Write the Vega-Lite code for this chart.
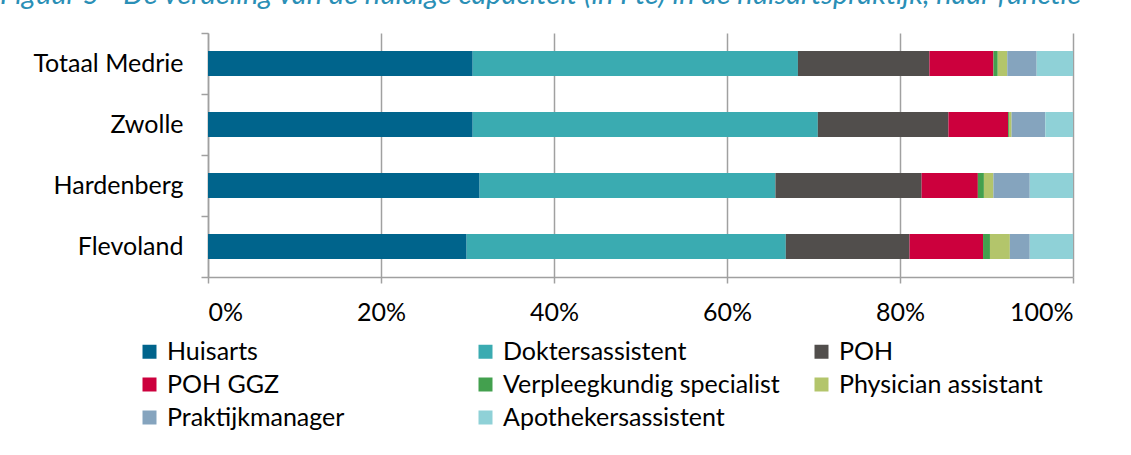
{
  "$schema": "https://vega.github.io/schema/vega-lite/v6.json",
  "autosize": {"type": "none"},
  "width": 865,
  "height": 244,
  "padding": {"left": 208, "top": 33, "right": 58, "bottom": 178},
  "background": "white",
  "title": {
    "text": "Figuur 5 - De verdeling van de huidige capaciteit (in Fte) in de huisartspraktijk, naar functie",
    "anchor": "start",
    "frame": "group",
    "orient": "top",
    "baseline": "alphabetic",
    "offset": 12,
    "dy": 24,
    "dx": -208,
    "font": "Lato",
    "fontStyle": "italic",
    "fontWeight": "normal",
    "fontSize": 29,
    "color": "#2a8fb6"
  },
  "data": {
    "values": [
      {"regio": "Totaal Medrie", "functie": "Huisarts", "o": 1, "waarde": 30.6},
      {"regio": "Totaal Medrie", "functie": "Doktersassistent", "o": 2, "waarde": 37.6},
      {"regio": "Totaal Medrie", "functie": "POH", "o": 3, "waarde": 15.2},
      {"regio": "Totaal Medrie", "functie": "POH GGZ", "o": 4, "waarde": 7.4},
      {"regio": "Totaal Medrie", "functie": "Verpleegkundig specialist", "o": 5, "waarde": 0.5},
      {"regio": "Totaal Medrie", "functie": "Physician assistant", "o": 6, "waarde": 1.1},
      {"regio": "Totaal Medrie", "functie": "Praktijkmanager", "o": 7, "waarde": 3.4},
      {"regio": "Totaal Medrie", "functie": "Apothekersassistent", "o": 8, "waarde": 4.2},
      {"regio": "Zwolle", "functie": "Huisarts", "o": 1, "waarde": 30.6},
      {"regio": "Zwolle", "functie": "Doktersassistent", "o": 2, "waarde": 39.9},
      {"regio": "Zwolle", "functie": "POH", "o": 3, "waarde": 15.1},
      {"regio": "Zwolle", "functie": "POH GGZ", "o": 4, "waarde": 6.9},
      {"regio": "Zwolle", "functie": "Verpleegkundig specialist", "o": 5, "waarde": 0.1},
      {"regio": "Zwolle", "functie": "Physician assistant", "o": 6, "waarde": 0.3},
      {"regio": "Zwolle", "functie": "Praktijkmanager", "o": 7, "waarde": 3.9},
      {"regio": "Zwolle", "functie": "Apothekersassistent", "o": 8, "waarde": 3.2},
      {"regio": "Hardenberg", "functie": "Huisarts", "o": 1, "waarde": 31.4},
      {"regio": "Hardenberg", "functie": "Doktersassistent", "o": 2, "waarde": 34.2},
      {"regio": "Hardenberg", "functie": "POH", "o": 3, "waarde": 16.9},
      {"regio": "Hardenberg", "functie": "POH GGZ", "o": 4, "waarde": 6.5},
      {"regio": "Hardenberg", "functie": "Verpleegkundig specialist", "o": 5, "waarde": 0.7},
      {"regio": "Hardenberg", "functie": "Physician assistant", "o": 6, "waarde": 1.1},
      {"regio": "Hardenberg", "functie": "Praktijkmanager", "o": 7, "waarde": 4.2},
      {"regio": "Hardenberg", "functie": "Apothekersassistent", "o": 8, "waarde": 5.0},
      {"regio": "Flevoland", "functie": "Huisarts", "o": 1, "waarde": 29.9},
      {"regio": "Flevoland", "functie": "Doktersassistent", "o": 2, "waarde": 36.9},
      {"regio": "Flevoland", "functie": "POH", "o": 3, "waarde": 14.3},
      {"regio": "Flevoland", "functie": "POH GGZ", "o": 4, "waarde": 8.5},
      {"regio": "Flevoland", "functie": "Verpleegkundig specialist", "o": 5, "waarde": 0.8},
      {"regio": "Flevoland", "functie": "Physician assistant", "o": 6, "waarde": 2.3},
      {"regio": "Flevoland", "functie": "Praktijkmanager", "o": 7, "waarde": 2.3},
      {"regio": "Flevoland", "functie": "Apothekersassistent", "o": 8, "waarde": 5.0}
    ]
  },
  "mark": {"type": "bar", "height": 25},
  "encoding": {
    "y": {
      "field": "regio",
      "type": "nominal",
      "sort": ["Totaal Medrie", "Zwolle", "Hardenberg", "Flevoland"],
      "scale": {"paddingInner": 0, "paddingOuter": 0},
      "axis": {
        "title": null,
        "tickBand": "extent",
        "domainColor": "#a0a0a0",
        "domainWidth": 1.5,
        "tickColor": "#a0a0a0",
        "tickWidth": 1.5,
        "tickSize": 7,
        "labelFont": "Lato",
        "labelFontSize": 25,
        "labelColor": "#000000",
        "labelPadding": 18,
        "labelLimit": 300
      }
    },
    "x": {
      "field": "waarde",
      "type": "quantitative",
      "stack": "normalize",
      "scale": {"domain": [0, 1], "nice": false},
      "axis": {
        "title": null,
        "format": ".0%",
        "values": [0, 0.2, 0.4, 0.6, 0.8, 1],
        "grid": true,
        "gridColor": "#a0a0a0",
        "gridWidth": 1.5,
        "domainColor": "#a0a0a0",
        "domainWidth": 1.5,
        "tickColor": "#a0a0a0",
        "tickWidth": 1.5,
        "tickSize": 6,
        "labelFont": "Lato",
        "labelFontSize": 25,
        "labelColor": "#000000",
        "labelPadding": 17
      }
    },
    "color": {
      "field": "functie",
      "type": "nominal",
      "sort": ["Huisarts", "Doktersassistent", "POH", "POH GGZ", "Verpleegkundig specialist", "Physician assistant", "Praktijkmanager", "Apothekersassistent"],
      "scale": {
        "domain": ["Huisarts", "Doktersassistent", "POH", "POH GGZ", "Verpleegkundig specialist", "Physician assistant", "Praktijkmanager", "Apothekersassistent"],
        "range": ["#00648c", "#3aabb1", "#514e4c", "#cc003d", "#43a04e", "#b3c56b", "#85a4be", "#8fd1d7"]
      },
      "legend": {
        "title": null,
        "orient": "none",
        "legendX": -71,
        "legendY": 306,
        "direction": "horizontal",
        "columns": 3,
        "gridAlign": "all",
        "columnPadding": 29,
        "rowPadding": 7,
        "symbolType": "square",
        "symbolSize": 196,
        "symbolStrokeWidth": 0,
        "labelFont": "Lato",
        "labelFontSize": 25,
        "labelColor": "#000000",
        "labelOffset": 5,
        "labelLimit": 400
      }
    },
    "order": {"field": "o", "type": "quantitative"}
  },
  "config": {
    "view": {"stroke": null}
  }
}
